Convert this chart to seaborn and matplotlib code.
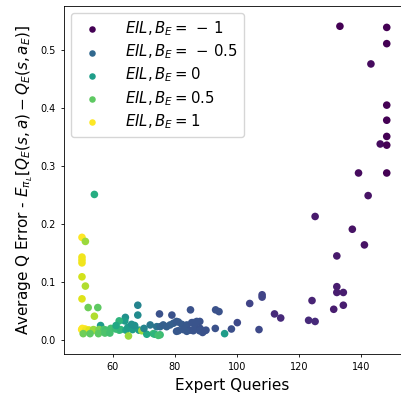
import matplotlib
matplotlib.use("Agg")
import matplotlib.pyplot as plt
import seaborn as sns
import pandas as pd
import numpy as np

# Expert queries (x), average Q error (y), colour value along viridis (c)
x_vals = [133.2, 148.3, 148.3, 143.2, 148.3, 148.3, 148.3, 146.2, 148.3, 139.2, 148.3, 142.3,
          137.2, 141.1, 125.2, 132.2, 132.2, 132.2, 134.3, 124.2, 131.2, 134.3, 123.1, 125.2,
          112.1, 114.1, 108.1, 108.1, 104.1, 107.1, 100.1, 98.2, 93.0, 93.1, 94.2, 90.0, 88.9,
          88.0, 85.0, 79.0, 75.0, 96.0,
          72.0, 74.1, 75.2, 76.2, 77.3, 78.4, 79.5, 80.5, 81.1, 82.2, 83.8, 85.4, 85.9, 87.0,
          86.5, 88.1, 84.8, 81.1, 82.7, 80.5, 83.8, 85.9, 87.9, 89.6,
          73.0, 75.2, 73.5, 74.6,
          54.0, 50.0, 51.1, 50.0, 50.0, 50.0, 50.0, 51.1, 50.0, 52.0, 55.1, 54.0, 68.0, 68.0,
          64.0, 63.8, 62.0, 56.0,
          49.9, 51.0, 52.1, 50.1, 51.2, 52.3, 53.7, 53.8, 55.5, 57.1, 57.7, 59.3, 60.9, 62.0,
          62.5, 64.2, 64.8, 66.3, 68.4, 69.3, 70.9, 65.0, 50.4, 52.6, 55.3, 57.4, 59.0, 66.0,
          67.0, 70.0, 61.0]
y_vals = [0.541, 0.539, 0.511, 0.476, 0.405, 0.379, 0.351, 0.338, 0.336, 0.288, 0.288, 0.249,
          0.191, 0.164, 0.213, 0.145, 0.092, 0.082, 0.082, 0.068, 0.053, 0.060, 0.034, 0.032,
          0.045, 0.038, 0.078, 0.074, 0.063, 0.018, 0.030, 0.019, 0.020, 0.052, 0.049, 0.017,
          0.013, 0.032, 0.052, 0.043, 0.045, 0.011,
          0.026, 0.023, 0.023, 0.026, 0.023, 0.026, 0.029, 0.032, 0.031, 0.027, 0.026, 0.030,
          0.030, 0.032, 0.023, 0.020, 0.017, 0.016, 0.018, 0.015, 0.015, 0.016, 0.016, 0.016,
          0.011, 0.009, 0.010, 0.008,
          0.251, 0.177, 0.170, 0.143, 0.138, 0.133, 0.109, 0.093, 0.071, 0.056, 0.056, 0.041,
          0.060, 0.043, 0.039, 0.033, 0.033, 0.025,
          0.018, 0.019, 0.017, 0.020, 0.017, 0.017, 0.018, 0.017, 0.018, 0.018, 0.017, 0.020,
          0.019, 0.017, 0.018, 0.017, 0.022, 0.018, 0.017, 0.016, 0.010, 0.007, 0.011, 0.011,
          0.011, 0.012, 0.012, 0.027, 0.025, 0.020, 0.025]
c_vals = [0.0, 0.0, 0.0, 0.03, 0.0, 0.0, 0.0, 0.03, 0.0, 0.03, 0.0, 0.05,
          0.05, 0.05, 0.07, 0.07, 0.08, 0.08, 0.08, 0.10, 0.08, 0.08, 0.12, 0.12,
          0.12, 0.12, 0.20, 0.20, 0.20, 0.22, 0.22, 0.24, 0.25, 0.25, 0.25, 0.25, 0.25,
          0.25, 0.25, 0.25, 0.25, 0.55,
          0.40, 0.38, 0.33, 0.30, 0.30, 0.30, 0.30, 0.28, 0.28, 0.28, 0.27, 0.26, 0.26, 0.26,
          0.26, 0.25, 0.26, 0.27, 0.27, 0.27, 0.27, 0.26, 0.26, 0.25,
          0.68, 0.68, 0.65, 0.70,
          0.62, 1.00, 0.85, 0.98, 0.98, 0.98, 0.93, 0.88, 0.95, 0.78, 0.75, 0.88, 0.45, 0.48,
          0.50, 0.55, 0.65, 0.55,
          1.00, 1.00, 0.97, 1.00, 0.98, 0.95, 0.85, 0.85, 0.80, 0.72, 0.70, 0.70, 0.68, 0.68,
          0.66, 0.58, 0.55, 0.55, 0.55, 0.85, 0.60, 0.85, 0.78, 0.75, 0.75, 0.72, 0.70, 0.50,
          0.50, 0.45, 0.60]

legend_labels = [r"$EIL, B_E=\,-\,1$", r"$EIL, B_E=\,-\,0.5$", r"$EIL, B_E=0$",
                 r"$EIL, B_E=0.5$", r"$EIL, B_E=1$"]
legend_colors = ["#440154", "#31688e", "#1f9e89", "#5ec962", "#fde725"]

df = pd.DataFrame({"queries": x_vals, "err": y_vals, "c": c_vals})

plt.rcParams["axes.linewidth"] = 0.6
plt.rcParams["xtick.major.size"] = 2.5
plt.rcParams["ytick.major.size"] = 2.5
plt.rcParams["xtick.major.width"] = 0.6
plt.rcParams["ytick.major.width"] = 0.6

fig = plt.figure(figsize=(4.01, 3.96), dpi=100)
ax = fig.add_axes([64 / 401, 42 / 396, 337 / 401, 348 / 396])

sns.scatterplot(data=df, x="queries", y="err", hue="c", palette="viridis",
                hue_norm=(0, 1), s=30, linewidth=0, legend=False, ax=ax)

handles = []
for lab, col in zip(legend_labels, legend_colors):
    h = ax.scatter([], [], color=col, s=22, linewidth=0, label=lab)
    handles.append(h)
ax.legend(handles=handles, loc="upper left", fontsize=10.7, frameon=True,
          borderaxespad=0.5, handletextpad=1.2, labelspacing=0.3)

ax.set_xlim(44.2, 152.9)
ax.set_ylim(-0.0241, 0.5759)
ax.set_xticks([60, 80, 100, 120, 140])
ax.set_yticks([0.0, 0.1, 0.2, 0.3, 0.4, 0.5])
ax.tick_params(labelsize=7)
ax.set_xlabel("Expert Queries", fontsize=11)
ax.set_ylabel(r"Average Q Error - $E_{\pi_L}[Q_E(s,a) - Q_E(s,a_E)]$", fontsize=11)

fig.savefig("out.png", dpi=100)
